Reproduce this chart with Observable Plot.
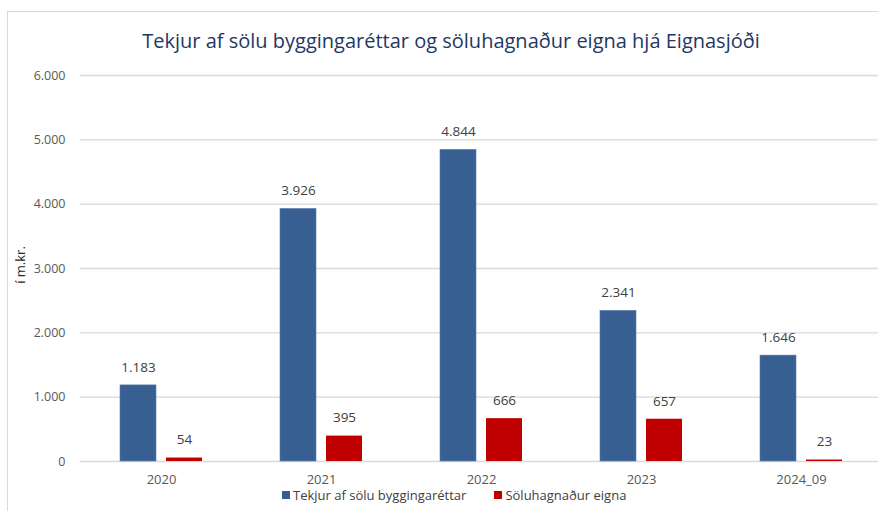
<!DOCTYPE html>
<html><head><meta charset="utf-8">
<script src="https://cdn.jsdelivr.net/npm/d3@7"></script>
<script src="https://cdn.jsdelivr.net/npm/@observablehq/plot@0.6"></script>
<style>
html,body{margin:0;padding:0;background:#fff;overflow:hidden;}
#wrap{position:relative;width:878px;height:511px;font-family:"Open Sans",sans-serif;overflow:hidden;}
#frame{position:absolute;left:7px;top:11px;width:900px;height:600px;border-left:1.5px solid #d9d9d9;border-top:1.5px solid #d9d9d9;}
#title{position:absolute;left:0;width:902px;top:27px;text-align:center;font-size:20px;color:#1f3864;white-space:nowrap;}
#chart{position:absolute;left:0;top:0;}
#ylab{position:absolute;left:20px;top:265px;transform:translate(-50%,-50%) rotate(-90deg);font-size:13px;color:#262626;white-space:nowrap;}
#legend{position:absolute;left:282px;top:486px;font-size:13px;color:#404040;white-space:nowrap;display:flex;align-items:center;}
#legend .sw{display:inline-block;width:8px;height:8px;margin-right:3px;}
#legend .item{display:flex;align-items:center;}
</style></head>
<body>
<div id="wrap">
  <div id="frame"></div>
  <div id="chart"></div>
  <div id="title">Tekjur af sölu byggingaréttar og söluhagnaður eigna hjá Eignasjóði</div>
  <div id="ylab">í m.kr.</div>
  <div id="legend"></div>
</div>
<script>
const years = ["2020", "2021", "2022", "2023", "2024_09"];
const tekjur = [1183, 3926, 4844, 2341, 1646];
const soluhagnadur = [54, 395, 666, 657, 23];
const yTicks = [0, 1000, 2000, 3000, 4000, 5000, 6000];
const seriesNames = ["Tekjur af sölu byggingaréttar", "Söluhagnaður eigna"];
const seriesColors = ["#375f92", "#c00000"];

const locale = d3.formatLocale({decimal: ",", thousands: ".", grouping: [3], currency: ["", ""]});
const fmt = locale.format(",d");

const blueRows = years.map((y, i) => ({year: y, value: tekjur[i]}));
const redRows = years.map((y, i) => ({year: y, value: soluhagnadur[i]}));

const plot = Plot.plot({
  width: 878,
  height: 511,
  marginLeft: 80,
  marginRight: -4,
  marginTop: 75,
  marginBottom: 50,
  style: {fontFamily: "'Open Sans', sans-serif", background: "transparent", overflow: "hidden"},
  x: {domain: years, padding: 0, tickSize: 0, tickPadding: 13, label: null},
  y: {domain: [0, 6000], ticks: yTicks, tickFormat: fmt, tickSize: 0, tickPadding: 15, label: null},
  marks: [
    Plot.ruleY(yTicks, {stroke: "#d9d9d9", strokeWidth: 1.3}),
    Plot.barY(blueRows, {x: "year", y: "value", fill: seriesColors[0], stroke: "#5b7fb0", strokeWidth: 0.6, insetLeft: 39, insetRight: 85}),
    Plot.barY(redRows, {x: "year", y: "value", fill: seriesColors[1], insetLeft: 85, insetRight: 39}),
    Plot.text(blueRows, {x: "year", y: "value", text: d => fmt(d.value), dx: -23, dy: -18, fontSize: 13.5, fill: "#404040"}),
    Plot.text(redRows, {x: "year", y: "value", text: d => fmt(d.value), dx: 23, dy: -18, fontSize: 13.5, fill: "#404040"})
  ]
});
plot.querySelectorAll('[aria-label="x-axis tick label"] text, [aria-label="y-axis tick label"] text').forEach(t => t.setAttribute("fill", "#595959"));
plot.querySelectorAll('[aria-label="x-axis tick label"]').forEach(g => g.setAttribute("font-size", "13"));
plot.querySelectorAll('[aria-label="y-axis tick label"]').forEach(g => g.setAttribute("font-size", "12.5"));
document.getElementById("chart").appendChild(plot);

const legend = document.getElementById("legend");
seriesNames.forEach((name, i) => {
  const item = document.createElement("div");
  item.className = "item";
  item.style.marginRight = i === 0 ? "28px" : "0";
  const sw = document.createElement("span");
  sw.className = "sw";
  sw.style.background = seriesColors[i];
  item.appendChild(sw);
  item.appendChild(document.createTextNode(name));
  legend.appendChild(item);
});
</script>
</body></html>
